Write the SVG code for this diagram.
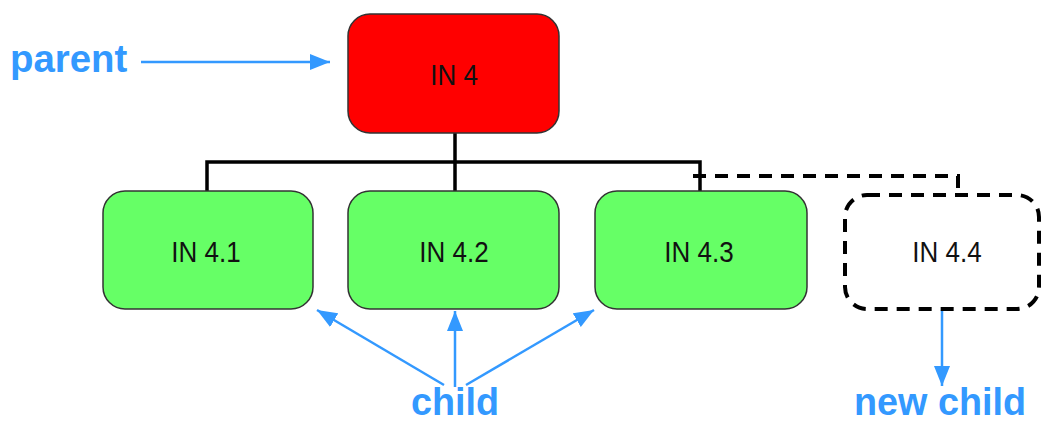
<svg xmlns="http://www.w3.org/2000/svg" width="1047" height="424" viewBox="0 0 1047 424">
<style>
.box{stroke:#333;stroke-width:1.5}
.red{fill:#FF0000}
.green{fill:#66FF66}
.new{fill:#fff;stroke:#000;stroke-width:4;stroke-dasharray:13 9}
.lbl{font-family:"Liberation Sans",Arial,sans-serif;font-size:26px;fill:#111;text-anchor:middle}
.blue{font-family:"Liberation Sans",Arial,sans-serif;font-size:32px;font-weight:bold;fill:#3399FF}
.tree{fill:none;stroke:#000;stroke-width:3.5}
.dash{fill:none;stroke:#000;stroke-width:4;stroke-dasharray:13 9}
.barrow{fill:none;stroke:#3399FF;stroke-width:2.5}
</style>
<defs>
<marker id="ah2" markerWidth="20" markerHeight="16" refX="20" refY="8" orient="auto" markerUnits="userSpaceOnUse">
<path d="M0,0 L20,8 L0,16 Z" fill="#3399FF"/>
</marker>
</defs>
<g id="connectors">
<path class="tree" d="M455,133 V192 M207,192 V162 H700 V192"/>
<path class="dash" d="M693,176 H958 V194"/>
<path class="barrow" d="M141,62 H330" marker-end="url(#ah2)"/>
<path class="barrow" d="M444,385 L317,310" marker-end="url(#ah2)"/>
<path class="barrow" d="M455,387 V311" marker-end="url(#ah2)"/>
<path class="barrow" d="M466,385 L594,310" marker-end="url(#ah2)"/>
<path class="barrow" d="M942,310 V386" marker-end="url(#ah2)"/>
</g>
<g id="parent">
<rect class="box red" x="348" y="14" width="211" height="119" rx="22"/>
<text class="lbl" transform="translate(454,85) scale(1,1.15)">IN 4</text>
</g>
<g id="child1">
<rect class="box green" x="103" y="191" width="210" height="118" rx="22"/>
<text class="lbl" transform="translate(206,262) scale(1,1.15)">IN 4.1</text>
</g>
<g id="child2">
<rect class="box green" x="348" y="191" width="211" height="118" rx="22"/>
<text class="lbl" transform="translate(454,262) scale(1,1.15)">IN 4.2</text>
</g>
<g id="child3">
<rect class="box green" x="595" y="191" width="212" height="118" rx="22"/>
<text class="lbl" transform="translate(699,262) scale(1,1.15)">IN 4.3</text>
</g>
<g id="child4">
<rect class="new" x="845" y="195" width="194" height="114" rx="22"/>
<text class="lbl" transform="translate(947,262) scale(1,1.15)">IN 4.4</text>
</g>
<g id="labels">
<text class="blue" transform="translate(10,72) scale(1.2,1.2)">parent</text>
<text class="blue" text-anchor="middle" transform="translate(455,415) scale(1.18,1.2)">child</text>
<text class="blue" text-anchor="middle" transform="translate(940,415) scale(1.18,1.2)">new child</text>
</g>
</svg>
